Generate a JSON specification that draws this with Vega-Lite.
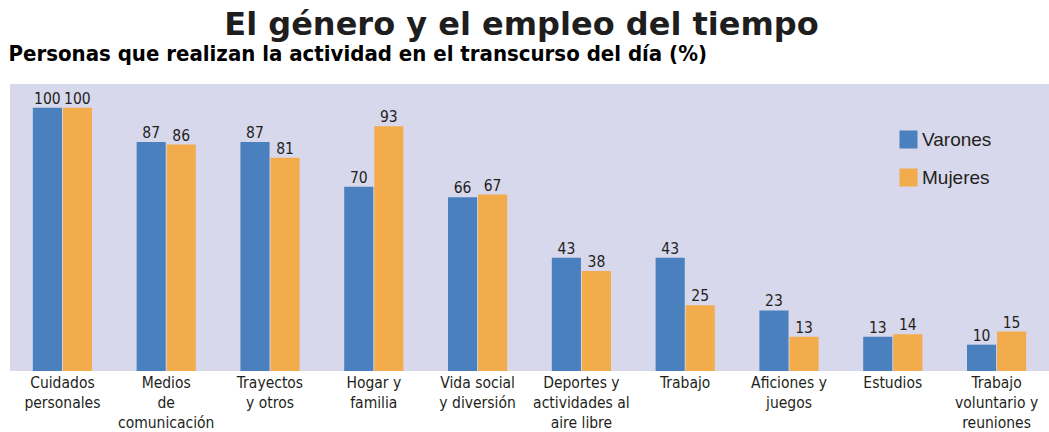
{
  "$schema": "https://vega.github.io/schema/vega-lite/v6.json",
  "autosize": "none",
  "width": 1039,
  "height": 287,
  "padding": {"left": 10, "top": 84, "right": 0, "bottom": 61},
  "background": "#ffffff",
  "title": {
    "text": "El género y el empleo del tiempo",
    "anchor": "middle",
    "frame": "group",
    "font": "DejaVu Sans",
    "fontSize": 32,
    "fontWeight": "bold",
    "color": "#1e1e1e",
    "offset": 0,
    "dx": -8
  },
  "data": {
    "values": [
      {"actividad": "Cuidados|personales", "sexo": "Varones", "valor": 100},
      {"actividad": "Cuidados|personales", "sexo": "Mujeres", "valor": 100},
      {"actividad": "Medios|de|comunicación", "sexo": "Varones", "valor": 87},
      {"actividad": "Medios|de|comunicación", "sexo": "Mujeres", "valor": 86},
      {"actividad": "Trayectos|y otros", "sexo": "Varones", "valor": 87},
      {"actividad": "Trayectos|y otros", "sexo": "Mujeres", "valor": 81},
      {"actividad": "Hogar y|familia", "sexo": "Varones", "valor": 70},
      {"actividad": "Hogar y|familia", "sexo": "Mujeres", "valor": 93},
      {"actividad": "Vida social|y diversión", "sexo": "Varones", "valor": 66},
      {"actividad": "Vida social|y diversión", "sexo": "Mujeres", "valor": 67},
      {"actividad": "Deportes y|actividades al|aire libre", "sexo": "Varones", "valor": 43},
      {"actividad": "Deportes y|actividades al|aire libre", "sexo": "Mujeres", "valor": 38},
      {"actividad": "Trabajo", "sexo": "Varones", "valor": 43},
      {"actividad": "Trabajo", "sexo": "Mujeres", "valor": 25},
      {"actividad": "Aficiones y|juegos", "sexo": "Varones", "valor": 23},
      {"actividad": "Aficiones y|juegos", "sexo": "Mujeres", "valor": 13},
      {"actividad": "Estudios", "sexo": "Varones", "valor": 13},
      {"actividad": "Estudios", "sexo": "Mujeres", "valor": 14},
      {"actividad": "Trabajo|voluntario y|reuniones", "sexo": "Varones", "valor": 10},
      {"actividad": "Trabajo|voluntario y|reuniones", "sexo": "Mujeres", "valor": 15}
    ]
  },
  "encoding": {
    "x": {
      "field": "actividad",
      "type": "nominal",
      "sort": null,
      "scale": {"paddingInner": 0.43, "paddingOuter": 0.22},
      "axis": {
        "title": null,
        "domain": false,
        "ticks": false,
        "labelAngle": 0,
        "labelPadding": 4,
        "labelBaseline": "top",
        "labelExpr": "split(datum.value, '|')",
        "labelFont": "DejaVu Sans Condensed",
        "labelFontSize": 15.5,
        "labelLineHeight": 20,
        "labelColor": "#231f20"
      }
    },
    "xOffset": {
      "field": "sexo",
      "type": "nominal",
      "scale": {"domain": ["Varones", "Mujeres"], "paddingInner": 0.03}
    },
    "y": {
      "field": "valor",
      "type": "quantitative",
      "scale": {"domain": [0, 109], "nice": false},
      "axis": {
        "title": "Personas que realizan la actividad en el transcurso del día (%)",
        "titleAngle": 0,
        "titleAlign": "left",
        "titleBaseline": "alphabetic",
        "titleX": -2,
        "titleY": -24,
        "titleFont": "DejaVu Sans Condensed",
        "titleFontSize": 22,
        "titleFontWeight": "bold",
        "titleColor": "#000000",
        "domain": false,
        "ticks": false,
        "labels": false,
        "grid": false
      }
    }
  },
  "layer": [
    {
      "mark": {"type": "bar"},
      "encoding": {
        "color": {
          "field": "sexo",
          "type": "nominal",
          "scale": {"domain": ["Varones", "Mujeres"], "range": ["#4a80bd", "#f2ac4b"]},
          "legend": {
            "title": null,
            "orient": "none",
            "legendX": 889,
            "legendY": 46,
            "padding": 0,
            "symbolType": "square",
            "symbolSize": 324,
            "symbolStrokeWidth": 0,
            "symbolOpacity": 1,
            "labelFont": "Liberation Sans",
            "labelFontSize": 19,
            "labelColor": "#231f20",
            "labelOffset": 4,
            "rowPadding": 18
          }
        }
      }
    },
    {
      "mark": {
        "type": "text",
        "baseline": "alphabetic",
        "dy": -4,
        "font": "DejaVu Sans Condensed",
        "fontSize": 15.5,
        "color": "#231f20"
      },
      "encoding": {
        "text": {"field": "valor", "type": "quantitative"}
      }
    }
  ],
  "config": {
    "view": {"fill": "#d8d8ec", "stroke": null}
  }
}
